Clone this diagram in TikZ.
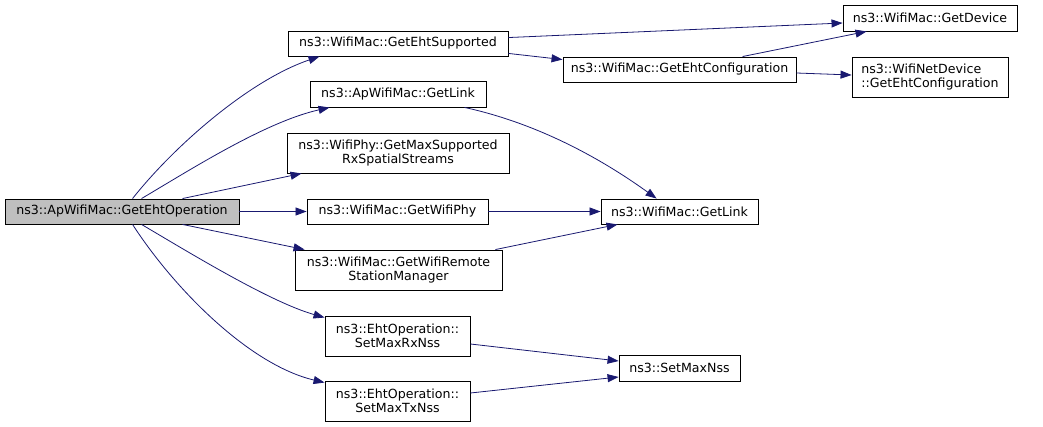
\documentclass[tikz,border=0pt]{standalone}
\usepackage{fontspec}
\setmainfont{DejaVu Sans}
\usetikzlibrary{arrows.meta}
\definecolor{edgeblue}{HTML}{191970}
\definecolor{curgray}{HTML}{BFBFBF}
\begin{document}
\begin{tikzpicture}
	[x=1pt,y=-1pt,
	box/.style={rectangle,draw=black,fill=white,line width=0.9pt,inner sep=0pt,minimum height=25,font=\fontsize{12.6}{14.5}\selectfont,align=center},
	tall/.style={minimum height=40},
	call/.style={draw=edgeblue,line width=0.8pt,-{Triangle[length=11pt,width=8pt]}}
	]
	\useasboundingbox (0,0) rectangle (1043,427);

	\node[box,fill=curgray,minimum width=234] (main) at (122,211.5) {ns3::ApWifiMac::GetEhtOperation};

	\node[box,minimum width=220] (ehtsup) at (398,43.5) {ns3::WifiMac::GetEhtSupported};
	\node[box,minimum width=176,minimum height=26] (aplink) at (398,94) {ns3::ApWifiMac::GetLink};
	\node[box,tall,minimum width=222] (maxss) at (398,153) {ns3::WifiPhy::GetMaxSupported\\RxSpatialStreams};
	\node[box,minimum width=181] (wifiphy) at (397.5,211.5) {ns3::WifiMac::GetWifiPhy};
	\node[box,tall,minimum width=207] (rsm) at (398.5,270) {ns3::WifiMac::GetWifiRemote\\StationManager};
	\node[box,tall,minimum width=145] (rxnss) at (397.5,336) {ns3::EhtOperation::\\SetMaxRxNss};
	\node[box,tall,minimum width=145] (txnss) at (397.5,401) {ns3::EhtOperation::\\SetMaxTxNss};

	\node[box,minimum width=233] (ehtconf) at (679.5,69.5) {ns3::WifiMac::GetEhtConfiguration};
	\node[box,minimum width=157] (maclink) at (679.5,211.5) {ns3::WifiMac::GetLink};
	\node[box,minimum width=121,minimum height=26] (maxnss) at (679.5,368) {ns3::SetMaxNss};

	\node[box,minimum width=174,minimum height=26] (device) at (930,18) {ns3::WifiMac::GetDevice};
	\node[box,tall,minimum width=156,align=left] (netdev) at (930,77) {ns3::WifiNetDevice\\::GetEhtConfiguration};

	% calls from GetEhtOperation
	\draw[call] ([xshift=128]main.north west) .. controls (175,145) and (250,80) .. ([xshift=32]ehtsup.south west);
	\draw[call] ([xshift=137]main.north west) .. controls (190,170) and (265,122) .. ([xshift=20]aplink.south west);
	\draw[call] ([xshift=178]main.north west) -- ([xshift=15]maxss.south west);
	\draw[call] (main.east) -- (wifiphy.west);
	\draw[call] ([xshift=178]main.south west) -- ([xshift=10]rsm.north west);
	\draw[call] ([xshift=137]main.south west) .. controls (190,253) and (270,302) .. ([yshift=-2]rxnss.north west);
	\draw[call] ([xshift=128]main.south west) .. controls (175,290) and (250,365) .. ([yshift=-2]txnss.north west);

	% second level
	\draw[call] ([yshift=-7]ehtsup.north east) -- ([yshift=-5]device.west);
	\draw[call] ([yshift=3]ehtsup.south east) -- ([yshift=-3]ehtconf.north west);
	\draw[call] ([xshift=180]ehtconf.north west) -- ([xshift=24]device.south west);
	\draw[call] ([yshift=-3.5]ehtconf.east) -- ([yshift=2]netdev.west);
	\draw[call] ([xshift=155]aplink.south west) .. controls (545,125) and (610,165) .. ([xshift=56]maclink.north west);
	\draw[call] (wifiphy.east) -- (maclink.west);
	\draw[call] ([xshift=-7]rsm.north east) -- ([xshift=17]maclink.south west);
	\draw[call] ([yshift=-8]rxnss.east) -- ([yshift=7]maxnss.west);
	\draw[call] ([yshift=8]txnss.east) -- ([yshift=-9]maxnss.west);
\end{tikzpicture}
\end{document}
